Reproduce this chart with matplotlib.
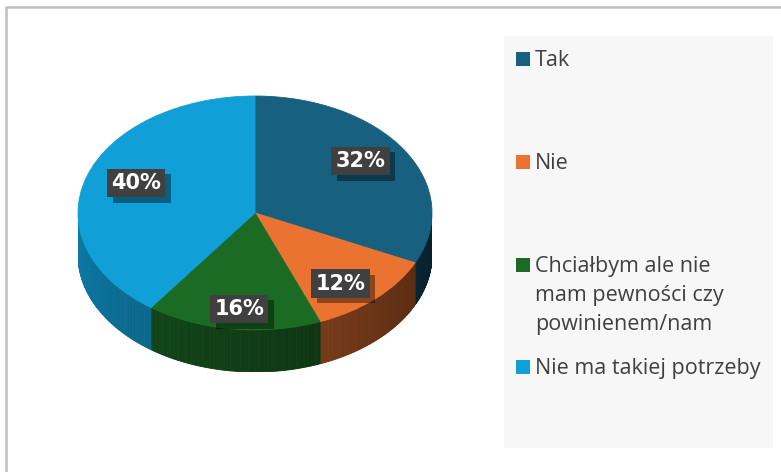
import numpy as np
import matplotlib.pyplot as plt
from matplotlib.patches import Rectangle, Polygon
import matplotlib.patheffects as pe
from matplotlib.colors import to_rgb

labels = ['Tak', 'Nie', 'Chciałbym ale nie\nmam pewności czy\npowinienem/nam', 'Nie ma takiej potrzeby']
values = [32, 12, 16, 40]
colors = ['#17607f', '#eb7331', '#1b6b25', '#119fd7']

plt.rcParams['font.family'] = ['Open Sans', 'DejaVu Sans']

W, H = 781, 472
fig = plt.figure(figsize=(W / 100, H / 100), dpi=100)

# background layer in pixel coordinates
bg = fig.add_axes([0, 0, 1, 1])
bg.set_xlim(0, W)
bg.set_ylim(H, 0)
bg.axis('off')
bg.plot([6, 6, W], [H, 7, 7], color='#bfbfbf', lw=1.8)

# legend
bg.add_patch(Rectangle((504, 36), 269, 412, color='#f7f7f7', lw=0))
leg_y = [59, 162, 265, 367]
for lab, c, y in zip(labels, colors, leg_y):
    bg.add_patch(Rectangle((516, y - 7), 14, 14, color=c, lw=0))
    bg.text(535, y - 9, lab, va='top', ha='left', fontsize=15.5,
            color='#404040', linespacing=1.5)

# pie (3d look)
depth = 0.36
ax = fig.add_axes([78 / W, (H - 372) / H, 354 / W, 276 / H])

fracs = np.array(values) / sum(values)
bounds = 90 - 360 * np.concatenate([[0], np.cumsum(fracs)])
for i, c in enumerate(colors):
    lo, hi = max(bounds[i + 1], -180), min(bounds[i], 0)
    if lo >= hi:
        continue
    th = np.radians(np.linspace(lo, hi, 100))
    base = np.array(to_rgb(c))
    for t0, t1 in zip(th[:-1], th[1:]):
        tm = np.degrees((t0 + t1) / 2)
        shade = 0.33 + 0.45 * (-tm / 180)
        col = tuple(base * shade)
        pts = [(np.cos(t0), np.sin(t0)), (np.cos(t1), np.sin(t1)),
               (np.cos(t1), np.sin(t1) - depth), (np.cos(t0), np.sin(t0) - depth)]
        ax.add_patch(Polygon(pts, closed=True, fc=col, ec=col, lw=0.6))

wedges, texts, autotexts = ax.pie(values, colors=colors, startangle=90,
                                  counterclock=False, autopct='%1.0f%%',
                                  pctdistance=0.72)
for w, c in zip(wedges, colors):
    w.set_edgecolor(c)
    w.set_linewidth(0.6)
for t in autotexts:
    x, y = t.get_position()
    t.set_position((x * 0.98, y * 1.15))
    t.set_color('white')
    t.set_fontweight('bold')
    t.set_fontsize(15)
    t.set_fontfamily('DejaVu Sans')
    t.set_bbox(dict(boxstyle='square,pad=0.2', fc='#404040', ec='none'))
    t.get_bbox_patch().set_path_effects([
        pe.SimplePatchShadow(offset=(4, -4), shadow_rgbFace='black', alpha=0.4),
        pe.Normal()])

ax.set_aspect('auto')
ax.set_xlim(-1, 1)
ax.set_ylim(-1 - depth, 1)
ax.axis('off')

fig.savefig('out.png', dpi=100)
